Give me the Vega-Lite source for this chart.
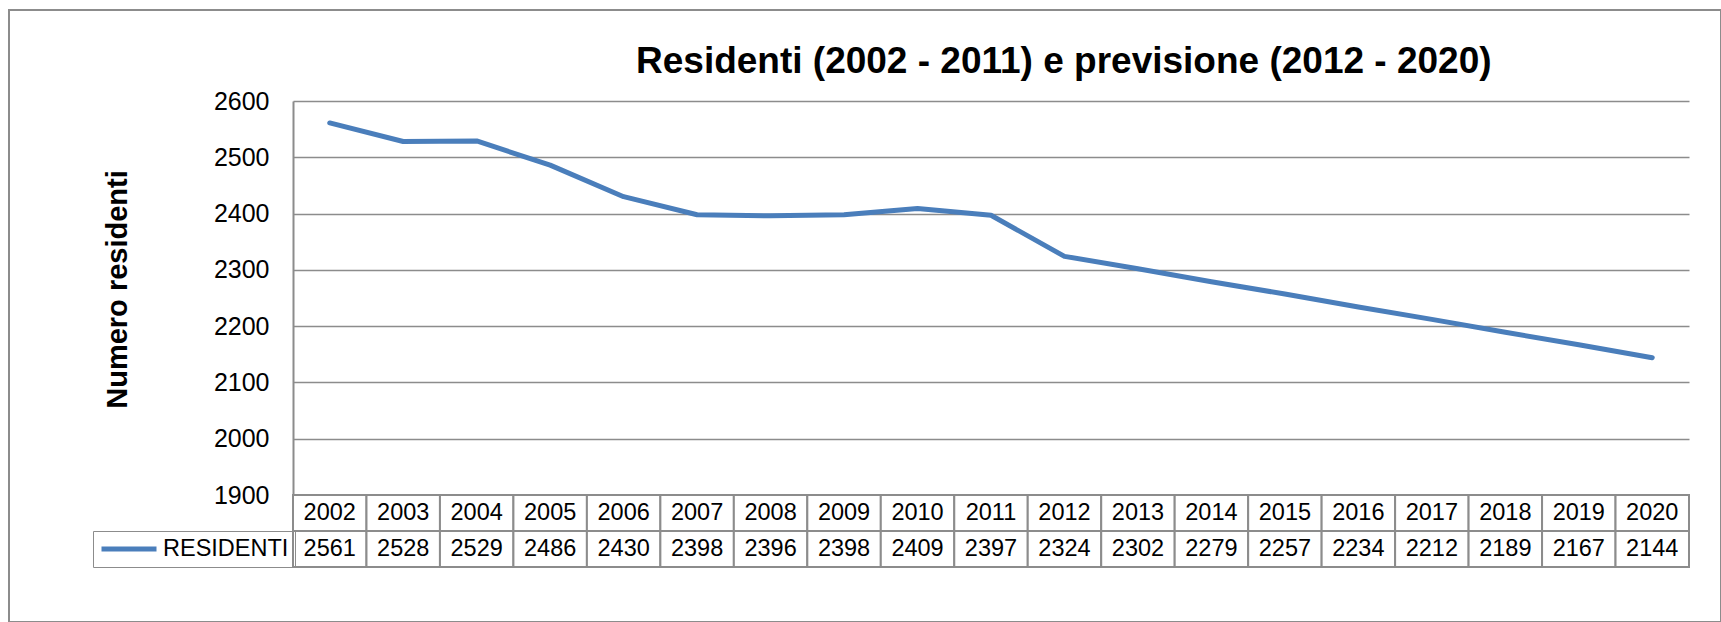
{
  "$schema": "https://vega.github.io/schema/vega-lite/v6.json",
  "width": 1712,
  "height": 612,
  "autosize": {"type": "none"},
  "padding": {"left": 9, "top": 10, "right": 0, "bottom": 0},
  "background": "white",
  "title": {
    "text": "Residenti (2002 - 2011) e previsione (2012 - 2020)",
    "font": "Liberation Sans",
    "fontSize": 37,
    "fontWeight": "bold",
    "color": "black",
    "anchor": "start",
    "frame": "group",
    "dx": 627,
    "offset": -100,
    "baseline": "alphabetic"
  },
  "data": {
    "values": [
      {"anno": "2002", "residenti": 2561},
      {"anno": "2003", "residenti": 2528},
      {"anno": "2004", "residenti": 2529},
      {"anno": "2005", "residenti": 2486},
      {"anno": "2006", "residenti": 2430},
      {"anno": "2007", "residenti": 2398},
      {"anno": "2008", "residenti": 2396},
      {"anno": "2009", "residenti": 2398},
      {"anno": "2010", "residenti": 2409},
      {"anno": "2011", "residenti": 2397},
      {"anno": "2012", "residenti": 2324},
      {"anno": "2013", "residenti": 2302},
      {"anno": "2014", "residenti": 2279},
      {"anno": "2015", "residenti": 2257},
      {"anno": "2016", "residenti": 2234},
      {"anno": "2017", "residenti": 2212},
      {"anno": "2018", "residenti": 2189},
      {"anno": "2019", "residenti": 2167},
      {"anno": "2020", "residenti": 2144}
    ]
  },
  "layer": [
    {
      "mark": {"type": "line", "strokeWidth": 5, "strokeCap": "round", "strokeJoin": "round"},
      "encoding": {
        "x": {
          "field": "anno",
          "type": "ordinal",
          "scale": {"type": "band", "domain": ["2002","2003","2004","2005","2006","2007","2008","2009","2010","2011","2012","2013","2014","2015","2016","2017","2018","2019","2020"], "range": [284, 1680], "paddingInner": 0, "paddingOuter": 0},
          "axis": null
        },
        "y": {
          "field": "residenti",
          "type": "quantitative",
          "scale": {"domain": [1900, 2600], "range": [485, 91], "nice": false, "zero": false},
          "axis": {
            "orient": "left",
            "offset": -284,
            "values": [1900, 2000, 2100, 2200, 2300, 2400, 2500, 2600],
            "format": "d",
            "ticks": false,
            "tickSize": 0,
            "labelPadding": 24,
            "labelFont": "Liberation Sans",
            "labelFontSize": 25,
            "labelColor": "black",
            "labelFlush": false,
            "labelOverlap": false,
            "domainColor": "#8c8c8c",
            "domainWidth": 2,
            "grid": true,
            "gridColor": "#8c8c8c",
            "gridWidth": 1.5,
            "gridOpacity": 1,
            "title": "Numero residenti",
            "titleFont": "Liberation Sans",
            "titleFontSize": 29,
            "titleFontWeight": "bold",
            "titleColor": "black",
            "titleAngle": -90,
            "titleAlign": "center",
            "titleBaseline": "alphabetic",
            "titleX": -167,
            "titleY": 279
          }
        },
        "color": {
          "datum": "RESIDENTI",
          "scale": {"range": ["#4A7EBB"]},
          "legend": {
            "orient": "none",
            "legendX": 84,
            "legendY": 521,
            "title": null,
            "symbolType": "stroke",
            "symbolSize": 3025,
            "symbolStrokeWidth": 5,
            "labelFont": "Liberation Sans",
            "labelFontSize": 23.5,
            "labelColor": "black",
            "padding": 6,
            "strokeColor": "#8c8c8c",
            "clipHeight": 24,
            "labelOffset": 4
          }
        }
      }
    },
    {
      "encoding": {
        "x": {
          "field": "anno",
          "type": "ordinal",
          "scale": {"type": "band", "domain": ["2002","2003","2004","2005","2006","2007","2008","2009","2010","2011","2012","2013","2014","2015","2016","2017","2018","2019","2020"], "range": [284, 1680], "paddingInner": 0, "paddingOuter": 0},
          "axis": null
        }
      },
      "layer": [
        {
          "mark": {"type": "rect", "fill": "white", "stroke": "#8c8c8c", "strokeWidth": 2},
          "encoding": {
            "y": {"datum": "anni", "type": "nominal", "scale": {"type": "band", "domain": ["anni", "RESIDENTI"], "range": [485, 557], "paddingInner": 0, "paddingOuter": 0}, "axis": null}
          }
        },
        {
          "mark": {"type": "rect", "fill": "white", "stroke": "#8c8c8c", "strokeWidth": 2},
          "encoding": {
            "y": {"datum": "RESIDENTI", "type": "nominal", "axis": null}
          }
        },
        {
          "mark": {"type": "text", "font": "Liberation Sans", "fontSize": 23.5, "color": "black", "align": "center", "baseline": "middle"},
          "encoding": {
            "y": {"datum": "anni", "type": "nominal", "axis": null},
            "text": {"field": "anno"}
          }
        },
        {
          "mark": {"type": "text", "font": "Liberation Sans", "fontSize": 23.5, "color": "black", "align": "center", "baseline": "middle"},
          "encoding": {
            "y": {"datum": "RESIDENTI", "type": "nominal", "axis": null},
            "text": {"field": "residenti", "type": "quantitative", "format": "d"}
          }
        }
      ]
    }
  ],
  "resolve": {"scale": {"y": "independent"}},
  "config": {
    "view": {"stroke": "#8c8c8c", "strokeWidth": 2},
    "font": "Liberation Sans"
  }
}
